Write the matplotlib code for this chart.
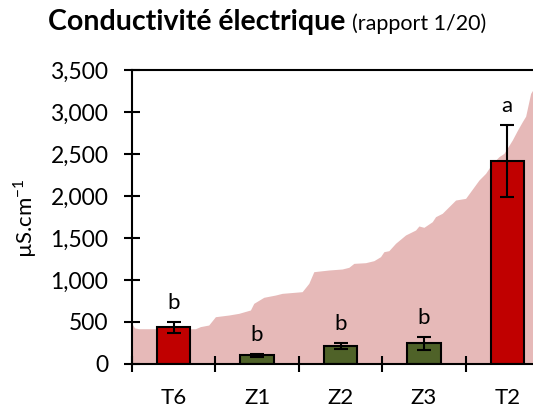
import matplotlib
matplotlib.use("Agg")
import matplotlib.pyplot as plt
import numpy as np

plt.rcParams['font.family'] = ['Lato', 'DejaVu Sans']

categories = ["T6", "Z1", "Z2", "Z3", "T2"]
means = [435, 103, 215, 247, 2418]
errors = [62, 18, 32, 80, 425]
letters = ["b", "b", "b", "b", "a"]
bar_colors = ["#C00000", "#4F6228", "#4F6228", "#4F6228", "#C00000"]

# background distribution (pink area), x in category units
bg_x = [-0.5, -0.47, -0.42, 0.26, 0.32, 0.42, 0.50, 0.66, 0.78, 0.92, 0.96, 1.08,
        1.22, 1.30, 1.54, 1.62, 1.68, 1.86, 2.02, 2.10, 2.16, 2.30, 2.40, 2.48,
        2.52, 2.58, 2.66, 2.78, 2.90, 2.94, 3.00, 3.10, 3.14, 3.22, 3.38, 3.50,
        3.66, 3.74, 3.82, 3.90, 3.96, 4.06, 4.12, 4.18, 4.22, 4.28, 4.33]
bg_y = [480, 430, 420, 420, 445, 464, 563, 583, 603, 643, 722, 794,
        821, 841, 861, 960, 1099, 1119, 1131, 1151, 1198, 1206, 1230, 1278,
        1337, 1349, 1437, 1536, 1595, 1643, 1627, 1694, 1754, 1794, 1952, 1972,
        2190, 2270, 2389, 2468, 2508, 2667, 2780, 2885, 2950, 3222, 3300]

W, H = 533, 413
fig = plt.figure(figsize=(W / 100, H / 100), dpi=100)
ax = fig.add_axes([132 / W, (H - 364) / H, 417 / W, 294 / H])

ax.fill_between(bg_x, 0, bg_y, color="#E6B9B8", linewidth=0, zorder=0)

x = np.arange(len(categories))
ax.bar(x, means, width=0.4, color=bar_colors, edgecolor="black", linewidth=1.5, zorder=2)
ax.errorbar(x, means, yerr=errors, fmt="none", ecolor="black", elinewidth=1.5,
            capsize=5, capthick=1.5, zorder=3)
for xi, m, e, lt in zip(x, means, errors, letters):
    ax.annotate(lt, (xi, m + e), xytext=(0, 13), textcoords="offset pixels",
                ha="center", va="baseline", fontsize=16, zorder=4)

ax.set_xlim(-0.5, 4.5)
ax.set_ylim(0, 3500)
ax.set_yticks(np.arange(0, 3501, 500))
ax.yaxis.set_major_formatter(matplotlib.ticker.FuncFormatter(lambda v, p: f"{v:,.0f}"))
ax.set_xticks(np.arange(-0.5, 4.6, 1))
ax.set_xticklabels([])
ax.set_xticks(x, minor=True)
ax.set_xticklabels(categories, minor=True)
ax.tick_params(axis="x", which="major", direction="inout", length=12, width=1.5)
ax.tick_params(axis="x", which="minor", length=0, pad=17, labelsize=16)
ax.tick_params(axis="y", direction="inout", length=12, width=1.5, labelsize=16.5, pad=11)

for s in ["left", "bottom", "top"]:
    ax.spines[s].set_linewidth(1.5)
ax.spines["right"].set_visible(False)

fig.text(25 / W, 1 - 218 / H, r"µS.cm$^{\mathregular{-1}}$", rotation=90,
         ha="center", va="center", fontsize=16)

t1 = fig.text(48 / W, 1 - 30 / H, "Conductivité électrique", fontsize=20.5,
              fontweight="bold", ha="left", va="baseline")
fig.canvas.draw()
bb = t1.get_window_extent()
fig.text((bb.x1 + 7) / W, 1 - 30 / H, "(rapport 1/20)", fontsize=15.5,
         ha="left", va="baseline")

fig.savefig("out.png", dpi=100)
